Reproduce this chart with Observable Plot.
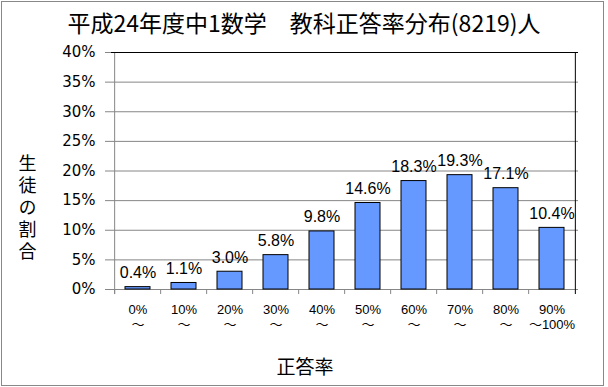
<!DOCTYPE html>
<html>
<head>
<meta charset="utf-8">
<script src="https://cdn.jsdelivr.net/npm/d3@7"></script>
<script src="https://cdn.jsdelivr.net/npm/@observablehq/plot@0.6"></script>
<style>
  html, body { margin: 0; padding: 0; background: #fff; }
  #wrap { position: relative; width: 608px; height: 387px; }
  #border { position: absolute; left: 1px; top: 1px; width: 603px; height: 385px; box-sizing: border-box; border: 1px solid #888; pointer-events: none; }
</style>
</head>
<body>
<div id="wrap"><div id="border"></div></div>
<script>
const title = "平成24年度中1数学　教科正答率分布(8219)人";
const yLabel = "生徒の割合";
const xLabel = "正答率";
const categories = ["0%", "10%", "20%", "30%", "40%", "50%", "60%", "70%", "80%", "90%"];
const tickLabels = ["0%\n～", "10%\n～", "20%\n～", "30%\n～", "40%\n～", "50%\n～", "60%\n～", "70%\n～", "80%\n～", "90%\n～100%"];
const values = [0.4, 1.1, 3.0, 5.8, 9.8, 14.6, 18.3, 19.3, 17.1, 10.4];
const yTicks = [0, 5, 10, 15, 20, 25, 30, 35, 40];

const data = categories.map((c, i) => ({cat: c, value: values[i], label: values[i].toFixed(1) + "%", tick: tickLabels[i]}));

const W = 608, H = 387, mL = 111, mR = 30, mT = 52, mB = 98;
const step = (W - mL - mR) / categories.length;
const gray = "#868686";
const cjk = "Noto Sans CJK JP, sans-serif";

const chart = Plot.plot({
  width: W,
  height: H,
  marginLeft: mL,
  marginRight: mR,
  marginTop: mT,
  marginBottom: mB,
  style: {fontSize: "15px", fontFamily: "DejaVu Sans, sans-serif", color: "#000", background: "transparent", overflow: "visible"},
  x: {domain: categories, paddingInner: 0.45, paddingOuter: 0.225, axis: null},
  y: {domain: [0, 40], ticks: yTicks, tickFormat: d => d + "%", tickSize: 0, tickPadding: 16, label: null},
  marks: [
    Plot.ruleY(yTicks, {stroke: gray, insetLeft: -6}),
    Plot.ruleX(categories, {x: d => d, y1: -0.85, y2: 0, dx: -step / 2, stroke: gray}),
    Plot.ruleX([categories[0]], {x: d => d, y1: -0.85, y2: 40, dx: -step / 2, stroke: gray}),
    Plot.barY(data, {x: "cat", y: "value", fill: "#6699FF", stroke: "black", strokeWidth: 1}),
    Plot.ruleY([40], {stroke: "black"}),
    Plot.ruleX([categories[categories.length - 1]], {x: d => d, y1: -0.85, y2: 40, dx: step / 2, stroke: "black"}),
    Plot.text(data, {x: "cat", y: "value", text: "label", lineAnchor: "bottom", dy: -9, fontSize: 16, fontFamily: "Liberation Sans Narrow, Liberation Sans, sans-serif"}),
    Plot.text(data, {x: "cat", text: "tick", frameAnchor: "bottom", lineAnchor: "top", dy: 13, fontSize: 13, lineHeight: 1.2, fontFamily: "Liberation Sans, Noto Sans CJK JP, sans-serif"}),
    Plot.text([title], {text: d => d, frameAnchor: "top", textAnchor: "middle", dx: -41, dy: -37, fontSize: 23, fontFamily: cjk}),
    Plot.text([yLabel], {text: d => d, frameAnchor: "left", textAnchor: "middle", dx: -84, dy: 32, fontSize: 18, fontFamily: cjk, ariaLabel: "ylabel"}),
    Plot.text([xLabel], {text: d => d, frameAnchor: "bottom", textAnchor: "middle", dx: -40, dy: 84, fontSize: 19, fontFamily: cjk})
  ]
});

// Stack the y label vertically, one character under another.
d3.select(chart).selectAll("text")
  .filter(function () { return this.textContent === yLabel; })
  .attr("dy", null)
  .style("writing-mode", "vertical-rl")
  .style("text-orientation", "upright")
  .style("letter-spacing", "4px");

document.getElementById("wrap").prepend(chart);
</script>
</body>
</html>
